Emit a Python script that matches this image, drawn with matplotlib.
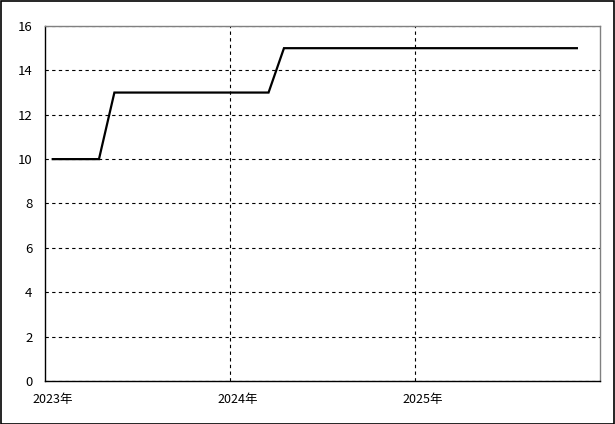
import matplotlib
matplotlib.use("Agg")
import matplotlib.pyplot as plt
from matplotlib.patches import Rectangle

plt.rcParams['font.family'] = ['Noto Sans CJK JP', 'DejaVu Sans']

# monthly values, 2023-01 .. 2025-11
months = ["2023-01", "2023-02", "2023-03", "2023-04", "2023-05", "2023-06",
          "2023-07", "2023-08", "2023-09", "2023-10", "2023-11", "2023-12",
          "2024-01", "2024-02", "2024-03", "2024-04", "2024-05", "2024-06",
          "2024-07", "2024-08", "2024-09", "2024-10", "2024-11", "2024-12",
          "2025-01", "2025-02", "2025-03", "2025-04", "2025-05", "2025-06",
          "2025-07", "2025-08", "2025-09", "2025-10", "2025-11"]
values = [10, 10, 10, 10, 13, 13, 13, 13, 13, 13, 13, 13,
          13, 13, 13, 15, 15, 15, 15, 15, 15, 15, 15, 15,
          15, 15, 15, 15, 15, 15, 15, 15, 15, 15, 15]
year_labels = ["2023年", "2024年", "2025年"]
n_months = 36

fig = plt.figure(figsize=(6.15, 4.24), dpi=100)
ax = fig.add_axes([0.0732, 0.1014, 0.9024, 0.8373])

x = [i + 0.5 for i in range(len(months))]
ax.plot(x, values, color="black", linewidth=1.6, solid_joinstyle="miter")

ax.set_xlim(0, n_months)
ax.set_ylim(0, 16)
ax.set_yticks(range(0, 17, 2))

# gridline positions at year starts, labels centred on first month
ax.set_xticks([12, 24])
ax.set_xticks([i * 12 + 0.5 for i in range(len(year_labels))], minor=True)
ax.set_xticklabels(year_labels, minor=True)
ax.tick_params(axis="x", which="major", length=0, labelbottom=False)
ax.tick_params(axis="x", which="minor", length=0, pad=8.5, labelsize=9)
ax.tick_params(axis="y", length=0, pad=9, labelsize=9.5)

ax.grid(True, which="major", color="black", linestyle=(0, (3, 3)), linewidth=0.8)

ax.spines["left"].set_color("black")
ax.spines["bottom"].set_color("black")
ax.spines["top"].set_color("#808080")
ax.spines["right"].set_color("#808080")
for s in ax.spines.values():
    s.set_linewidth(1.0)

fig.patches.append(Rectangle((0.001, 0.001), 0.997, 0.996, transform=fig.transFigure,
                             fill=False, edgecolor="black", linewidth=1.2))

fig.savefig("out.png", dpi=100)
